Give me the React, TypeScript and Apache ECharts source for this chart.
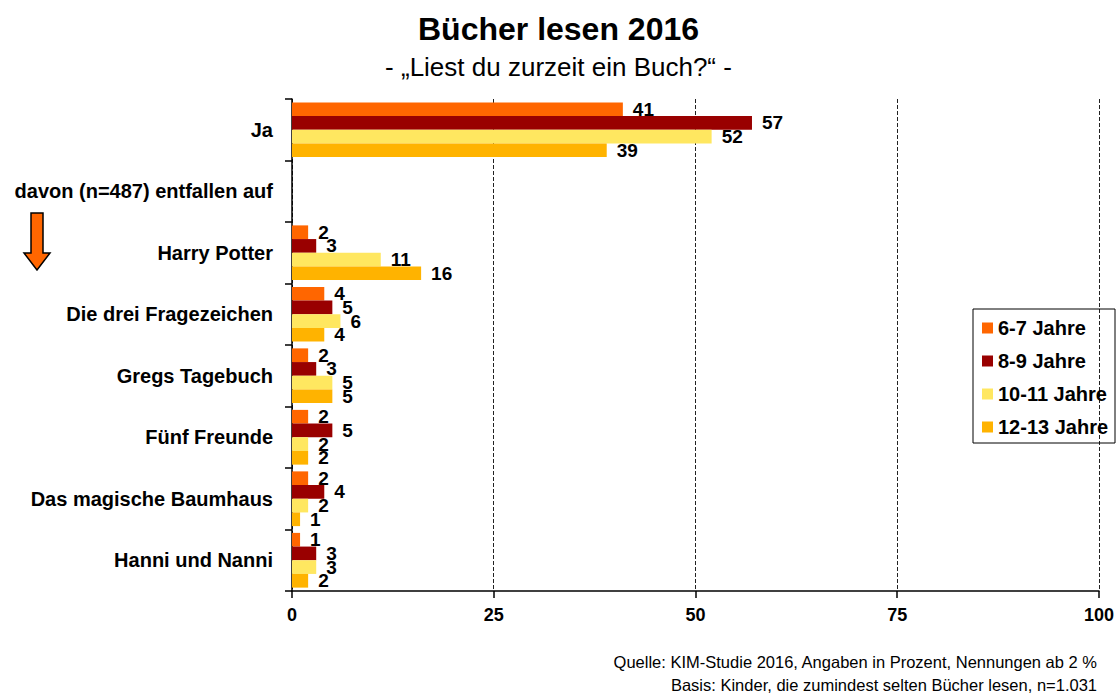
import React, { useEffect, useRef } from "react";
import * as echarts from "echarts";

const categories = [
  "Ja",
  "davon (n=487) entfallen auf",
  "Harry Potter",
  "Die drei Fragezeichen",
  "Gregs Tagebuch",
  "Fünf Freunde",
  "Das magische Baumhaus",
  "Hanni und Nanni",
];
const seriesNames = ["6-7 Jahre", "8-9 Jahre", "10-11 Jahre", "12-13 Jahre"];
const age67 = [41, null, 2, 4, 2, 2, 2, 1];
const age89 = [57, null, 3, 5, 3, 5, 4, 3];
const age1011 = [52, null, 11, 6, 5, 2, 2, 3];
const age1213 = [39, null, 16, 4, 5, 2, 1, 2];
const colors = ["#FF6600", "#990000", "#FFE760", "#FFB300"];
const xTicks = [0, 25, 50, 75, 100];

const FONT = "'Liberation Sans', Arial, sans-serif";

export default function App() {
  const ref = useRef<HTMLDivElement>(null);
  useEffect(() => {
    if (!ref.current) return;
    const chart = echarts.init(ref.current, null, { renderer: "svg" });
    const data = [age67, age89, age1011, age1213];
    chart.setOption({
      animation: false,
      backgroundColor: "#ffffff",
      textStyle: { fontFamily: FONT },
      title: [
        {
          text: "Bücher lesen 2016",
          left: "center",
          top: 8,
          textStyle: { fontFamily: FONT, fontSize: 32, fontWeight: "bold", color: "#000" },
        },
        {
          text: "- „Liest du zurzeit ein Buch?“ -",
          left: "center",
          top: 49,
          textStyle: { fontFamily: FONT, fontSize: 26, fontWeight: "normal", color: "#000" },
        },
      ],
      legend: {
        orient: "vertical",
        left: 982,
        top: 318,
        padding: 0,
        itemWidth: 11,
        itemHeight: 11,
        itemGap: 13,
        icon: "rect",
        data: seriesNames,
        textStyle: { fontFamily: FONT, fontSize: 20, fontWeight: "bold", color: "#000", lineHeight: 20 },
      },
      grid: { left: 292, right: 18, top: 99, bottom: 102, containLabel: false },
      xAxis: {
        type: "value",
        min: 0,
        max: 100,
        interval: 25,
        axisLine: { show: true, lineStyle: { color: "#000", width: 1.5 } },
        axisTick: { show: true, length: 7, lineStyle: { color: "#000", width: 1.5 } },
        axisLabel: {
          margin: 15,
          fontFamily: FONT,
          fontSize: 18,
          fontWeight: "bold",
          color: "#000",
          formatter: (v: number) => (xTicks.includes(v) ? String(v) : ""),
        },
        splitLine: { show: true, lineStyle: { color: "#222", type: [4, 2], width: 1 } },
      },
      yAxis: {
        type: "category",
        inverse: true,
        data: categories,
        axisLine: { show: true, lineStyle: { color: "#000", width: 1.5 } },
        axisTick: { show: true, length: 7, lineStyle: { color: "#000", width: 1.5 } },
        axisLabel: {
          margin: 19,
          fontFamily: FONT,
          fontSize: 20,
          fontWeight: "bold",
          color: "#000",
        },
      },
      series: seriesNames.map((name, i) => ({
        name,
        type: "bar",
        data: data[i],
        barGap: "0%",
        barCategoryGap: "11%",
        itemStyle: { color: colors[i] },
        label: {
          show: true,
          position: "right",
          distance: 10,
          fontFamily: FONT,
          fontSize: 19,
          fontWeight: "bold",
          color: "#000",
        },
      })),
      graphic: [
        {
          type: "polygon",
          shape: {
            points: [
              [31, 213],
              [43, 213],
              [43, 253],
              [50, 253],
              [37, 270],
              [24, 253],
              [31, 253],
            ],
          },
          style: { fill: "#FF6600", stroke: "#000", lineWidth: 1.5 },
        },
        {
          type: "rect",
          shape: { x: 973, y: 309, width: 142, height: 134 },
          style: { fill: "none", stroke: "#000", lineWidth: 1 },
          z: 10,
        },
        {
          type: "text",
          x: 1097,
          y: 662,
          style: {
            text: "Quelle: KIM-Studie 2016, Angaben in Prozent, Nennungen ab 2 %",
            align: "right",
            verticalAlign: "middle",
            font: `16.5px ${FONT}`,
            fill: "#000",
          },
        },
        {
          type: "text",
          x: 1097,
          y: 685,
          style: {
            text: "Basis: Kinder, die zumindest selten Bücher lesen, n=1.031",
            align: "right",
            verticalAlign: "middle",
            font: `16.5px ${FONT}`,
            fill: "#000",
          },
        },
      ],
    });
    return () => chart.dispose();
  }, []);
  return (
    <div
      ref={ref}
      style={{ position: "fixed", left: 0, top: 0, width: 1117, height: 693 }}
    />
  );
}
